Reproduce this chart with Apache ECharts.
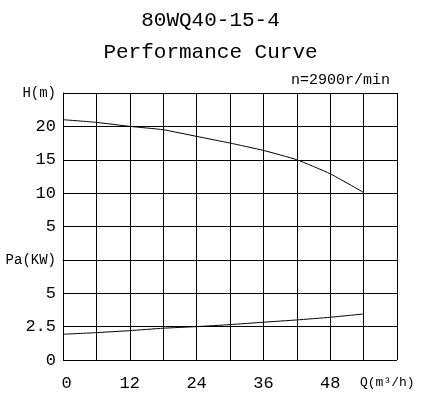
<!DOCTYPE html>
<html>
<head>
<meta charset="utf-8">
<script src="https://cdn.jsdelivr.net/npm/echarts@6/dist/echarts.min.js"></script>
<style>html,body{margin:0;padding:0;background:#fff;}#c{width:421px;height:395px;}</style>
</head>
<body>
<div id="c"></div>
<script>
// Data
var flow = [0, 6, 12, 18, 24, 30, 36, 42, 48, 54];
var head = [21.0, 20.6, 20.0, 19.5, 18.5, 17.5, 16.4, 15.0, 12.9, 10.1];
var power = [1.93, 2.05, 2.2, 2.38, 2.5, 2.65, 2.83, 3.0, 3.2, 3.45];
var xTickLabels = {0: '0', 12: '12', 24: '24', 36: '36', 48: '48'};
var headTickLabels = {25: 'H(m)', 20: '20', 15: '15', 10: '10', 5: '5'};
var powerTickLabels = {0: '0', 2.5: '2.5', 5: '5', 7.5: 'Pa(KW)'};
var titleMain = '80WQ40-15-4';
var titleSub = 'Performance Curve';
var speedText = 'n=2900r/min';
var xName = 'Q(m³/h)';

var FONT = 'Liberation Mono';
var chart = echarts.init(document.getElementById('c'), null, {renderer: 'canvas'});

function pairs(xs, ys) { return xs.map(function (x, i) { return [x, ys[i]]; }); }

function yFmt(map) {
  return function (v) {
    var key = Math.round(v * 10) / 10;
    var t = map[key];
    if (t === undefined) return '';
    if (/[A-Za-z]/.test(t)) return '{u|' + t + '}';
    return '{n|' + t + '}';
  };
}
var richY = {
  n: {fontFamily: FONT, fontSize: 17, color: '#000'},
  u: {fontFamily: FONT, fontSize: 14, color: '#000'}
};

chart.setOption({
  backgroundColor: '#fff',
  animation: false,
  title: [
    {text: titleMain, left: 'center', top: 5, textStyle: {fontFamily: FONT, fontSize: 21, fontWeight: 'normal', color: '#000'}},
    {text: titleSub, left: 'center', top: 37, textStyle: {fontFamily: FONT, fontSize: 21, fontWeight: 'normal', color: '#000'}},
    {text: speedText, left: 286, top: 68, textStyle: {fontFamily: FONT, fontSize: 15, fontWeight: 'normal', color: '#000'}}
  ],
  grid: {left: 63, top: 93, width: 334, height: 267, containLabel: false},
  xAxis: {
    type: 'value', min: 0, max: 60, interval: 6,
    axisLine: {show: true, lineStyle: {color: '#000', width: 1}},
    axisTick: {show: false},
    splitLine: {show: true, lineStyle: {color: '#000', width: 1}},
    axisLabel: {
      margin: 15,
      formatter: function (v) {
        var t = xTickLabels[v];
        if (t === undefined) return '';
        return v === 0 ? '{z|' + t + '}' : '{n|' + t + '}';
      },
      rich: {
        n: {fontFamily: FONT, fontSize: 17, color: '#000'},
        z: {fontFamily: FONT, fontSize: 17, color: '#000', padding: [0, 0, 0, 7]}
      }
    }
  },
  yAxis: [
    {
      type: 'value', min: -15, max: 25, interval: 5, position: 'left',
      axisLine: {show: true, lineStyle: {color: '#000', width: 1}},
      axisTick: {show: false},
      splitLine: {show: true, lineStyle: {color: '#000', width: 1}},
      axisLabel: {margin: 7, formatter: yFmt(headTickLabels), rich: richY}
    },
    {
      type: 'value', min: 0, max: 20, interval: 2.5, position: 'left', offset: 0,
      axisLine: {show: false},
      axisTick: {show: false},
      splitLine: {show: false},
      axisLabel: {margin: 7, formatter: yFmt(powerTickLabels), rich: richY}
    }
  ],
  graphic: [
    {type: 'text', left: 360, top: 376, style: {text: xName, fontFamily: FONT, fontSize: 13, fill: '#000'}}
  ],
  series: [
    {type: 'line', yAxisIndex: 0, data: pairs(flow, head), symbol: 'none', smooth: 0.15,
      lineStyle: {color: '#000', width: 1}},
    {type: 'line', yAxisIndex: 1, data: pairs(flow, power), symbol: 'none', smooth: 0.15,
      lineStyle: {color: '#000', width: 1}}
  ]
});
</script>
</body>
</html>
